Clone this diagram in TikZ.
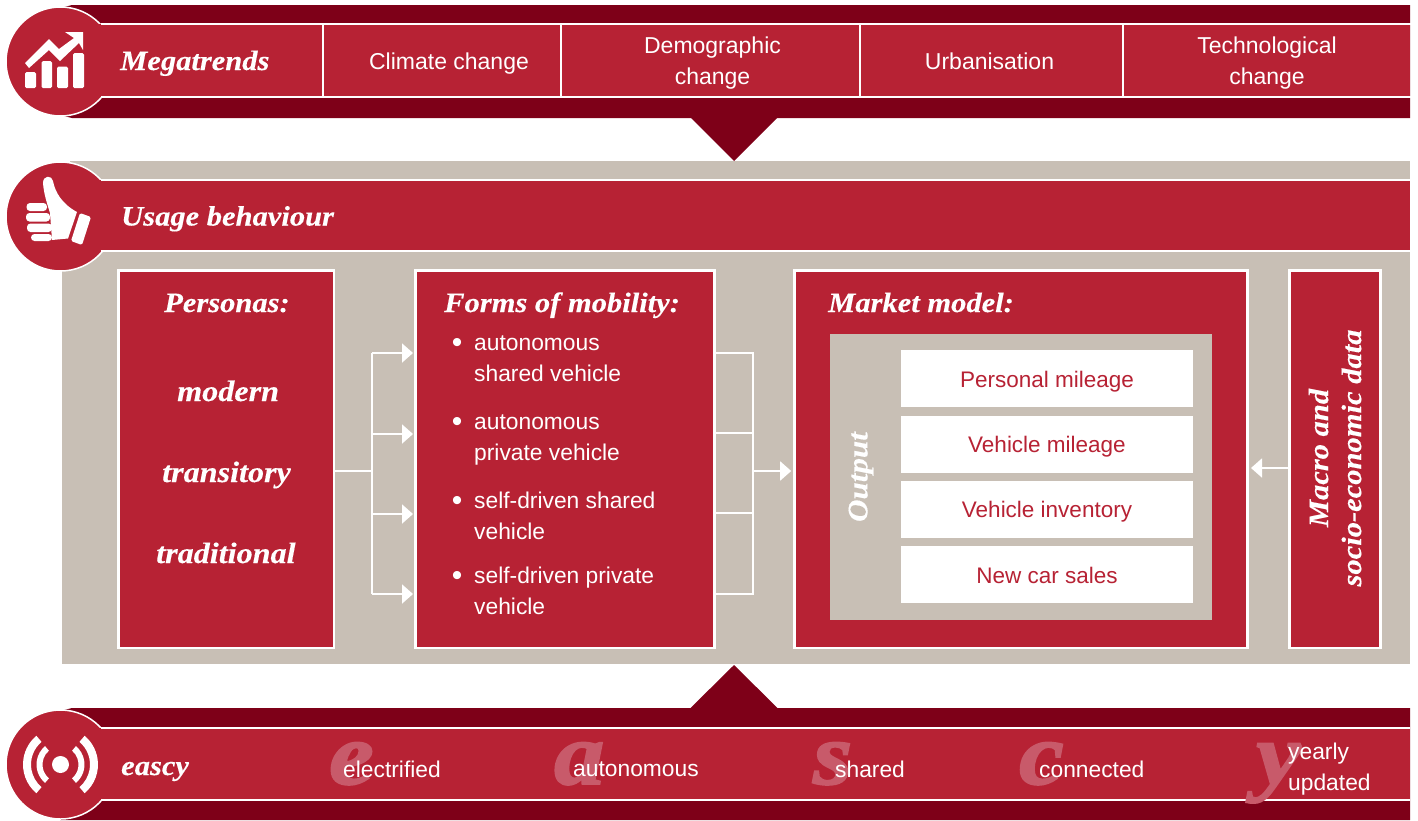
\documentclass[tikz,border=0pt]{standalone}
\usepackage{fontspec}
\setmainfont{Liberation Sans}
\newfontfamily\ser{Liberation Serif}[BoldItalicFeatures={FakeStretch=1.09,FakeBold=0.3}]
\newfontfamily\serbig{Liberation Serif}[BoldItalicFeatures={FakeStretch=1.14,FakeBold=2.2}]
\usetikzlibrary{arrows.meta}
\definecolor{cred}{HTML}{B72234}
\definecolor{cdark}{HTML}{7E0018}
\definecolor{cbeige}{HTML}{C8BFB5}
\definecolor{cletter}{HTML}{C85A6A}
\tikzset{
  x=1pt,y=-1pt,
  sans/.style={text=white,font=\fontsize{23}{31}\selectfont,align=center,inner sep=0},
  sanl/.style={text=white,font=\fontsize{22.8}{31}\selectfont,align=left,inner sep=0,anchor=west},
  blt/.style={text=white,font=\fontsize{30}{30}\selectfont,inner sep=0},
  redtxt/.style={text=cred,font=\fontsize{22.5}{31}\selectfont,inner sep=0},
  head/.style={text=white,font=\fontsize{28}{32}\ser\bfseries\itshape\selectfont,inner sep=0,anchor=base west},
  pers/.style={text=white,font=\fontsize{29.5}{32}\ser\bfseries\itshape\selectfont,inner sep=0,anchor=base west},
  big/.style={text=cletter,font=\fontsize{88}{88}\serbig\bfseries\itshape\selectfont,inner sep=0,anchor=base west},
  panel/.style={fill=cred,draw=white,line width=2.6pt,inner sep=0,outer sep=0,anchor=north west},
  outbox/.style={fill=white,inner sep=0,anchor=north west,minimum width=292pt,minimum height=57pt},
  cell/.style={draw=white,line width=2pt,inner sep=0,minimum height=73pt},
  wire/.style={draw=white,line width=1.8pt},
  arr/.style={wire,-{Triangle[length=11pt,width=19pt]}},
  disc/.style={fill=cred,draw=white,line width=1.5pt},
  bandline/.style={draw=white,line width=2.5pt}
}
\begin{document}
\begin{tikzpicture}
\useasboundingbox (0,0) rectangle (1418,820);
% ---- middle beige panel
\fill[cbeige] (70,161) rectangle (1410,250);
\fill[cbeige] (62,250) rectangle (1410,664);
% ---- top band
\fill[cdark] (60,8) -- (72,5) -- (1410,5) -- (1410,118) -- (72,118) -- (60,115) -- cycle;
\fill[cdark] (690,117) -- (778,117) -- (734,161) -- cycle;
\draw[disc] (60.5,61.5) circle (54.5);
\fill[cred] (80,24) rectangle (1410,97);
\draw[bandline] (101,24) -- (1410,24);
\draw[bandline] (101,97) -- (1410,97);
\node[head] (mega) at (120,70) {Megatrends};
\node[cell,minimum width=238pt] (t1) at (442,60.5) {};
\node[cell,minimum width=299pt] (t2) at (710.5,60.5) {};
\node[cell,minimum width=263pt] (t3) at (991.5,60.5) {};
\node[cell,minimum width=290pt] (t4) at (1268,60.5) {};
\node[sans] (l1) at (449,64) {Climate change};
\node[sans] (l2) at (712.5,63.5) {Demographic\\change};
\node[sans] (l3) at (989.5,61.5) {Urbanisation};
\node[sans] (l4) at (1267,63.5) {Technological\\change};
% chart icon
\fill[white,rounded corners=1.5pt] (25,72) rectangle (36,88);
\fill[white,rounded corners=1.5pt] (41.5,61) rectangle (52,88);
\fill[white,rounded corners=1.5pt] (57,66.5) rectangle (68,88);
\fill[white,rounded corners=1.5pt] (73,53) rectangle (84,88);
\fill[white] (25,63) -- (49,39) -- (59,49) -- (74,38) -- (65,32) -- (83,32) -- (83,50) -- (79,43) -- (60,61) -- (49,50) -- (29,68) -- cycle;
% ---- usage band
\draw[disc] (60.5,216.5) circle (54.5);
\fill[cred] (80,180) rectangle (1410,251);
\draw[bandline] (101,180) -- (1410,180);
\draw[bandline] (101,251) -- (1410,251);
\node[head] (usage) at (121,225.5) {Usage behaviour};
% thumb icon
\fill[white] (43,183) .. controls (43,175) and (52,175) .. (53,181)
  .. controls (55,192) and (62,204) .. (77,212) -- (68,238.5) -- (52,240)
  -- (50,213) .. controls (47,203) and (44,195) .. (43,183) -- cycle;
\fill[white,rounded corners=1.5pt] (80,213) -- (91,217) -- (82,245) -- (71,241) -- cycle;
\fill[white,rounded corners=3.5pt] (26.5,203) rectangle (47,211);
\fill[white,rounded corners=3.5pt] (26,213) rectangle (50,221.5);
\fill[white,rounded corners=3.5pt] (27,223.5) rectangle (52,232);
\fill[white,rounded corners=3.5pt] (31,234) rectangle (52,241);
% ---- panels
\node[panel,minimum width=215.5pt,minimum height=377.6pt] (personas) at (118.5,270.2) {};
\node[panel,minimum width=299.3pt,minimum height=377.6pt] (forms) at (415.2,270.2) {};
\node[panel,minimum width=453.3pt,minimum height=377.6pt] (market) at (794.2,270.2) {};
\node[panel,minimum width=91.5pt,minimum height=377.6pt] (macro) at (1289.2,270.2) {};
\node[head] (h1) at (164,312) {Personas:};
\node[pers] (p1) at (177,401) {modern};
\node[pers] (p2) at (162,482) {transitory};
\node[pers] (p3) at (156,563) {traditional};
\node[head] (h2) at (444,312) {Forms of mobility:};
\node[head] (h3) at (828,312) {Market model:};
\node[blt] (b1) at (457,345) {•};
\node[sanl] (f1) at (474,359) {autonomous\\shared vehicle};
\node[blt] (b2) at (457,424) {•};
\node[sanl] (f2) at (474,439.5) {autonomous\\private vehicle};
\node[blt] (b3) at (457,503) {•};
\node[sanl] (f3) at (474,516) {self-driven shared\\vehicle};
\node[blt] (b4) at (457,578) {•};
\node[sanl] (f4) at (474,590.5) {self-driven private\\vehicle};
% market inner
\node[fill=cbeige,inner sep=0,anchor=north west,minimum width=382pt,minimum height=286pt] (outp) at (830,334) {};
\node[text=white,font=\fontsize{28.5}{28}\ser\bfseries\itshape\selectfont,rotate=90,inner sep=0] (outl) at (861,477) {Output};
\node[outbox] (o1) at (901,350) {};
\node[outbox] (o2) at (901,416) {};
\node[outbox] (o3) at (901,481) {};
\node[outbox] (o4) at (901,546) {};
\node[redtxt] (r1) at (1047,381.5) {Personal mileage};
\node[redtxt] (r2) at (1047,446.5) {Vehicle mileage};
\node[redtxt] (r3) at (1047,511.5) {Vehicle inventory};
\node[redtxt] (r4) at (1047,575) {New car sales};
\node[text=white,font=\fontsize{28}{33}\ser\bfseries\itshape\selectfont,rotate=90,align=center,inner sep=0] (mtxt) at (1335,458) {Macro and\\socio-economic data};
% ---- connectors
\coordinate (pj) at (372,471);
\coordinate (fa) at (413,353);
\coordinate (fb) at (413,434);
\coordinate (fc) at (413,514);
\coordinate (fd) at (413,594);
\coordinate (qa) at (753,353);
\coordinate (qb) at (753,433);
\coordinate (qc) at (753,513);
\coordinate (qd) at (753,594);
\coordinate (qj) at (753,471);
\coordinate (mj) at (1251,468);
\draw[wire] (personas.east |- pj) -- (pj);
\draw[arr] (fa -| pj) -- (fa);
\draw[wire] (fa -| pj) -- (fd -| pj);
\draw[arr] (fb -| pj) -- (fb);
\draw[arr] (fc -| pj) -- (fc);
\draw[arr] (fd -| pj) -- (fd);
\draw[wire] (forms.east |- qa) -- (qa) -- (qd) -- (forms.east |- qd);
\draw[wire] (forms.east |- qb) -- (qb);
\draw[wire] (forms.east |- qc) -- (qc);
\draw[arr,shorten >=3pt] (qj) -- (market.west |- qj);
\draw[arr] (macro.west |- mj) -- (mj);
% ---- bottom band
\fill[cdark] (60,711) -- (72,708) -- (1410,708) -- (1410,820) -- (60,820) -- cycle;
\fill[cdark] (690,708.5) -- (778,708.5) -- (734,665) -- cycle;
\begin{scope}
\clip (0,0) rectangle (1418,820);
\draw[disc] (60.5,764.5) circle (54.5);
\end{scope}
\fill[cred] (80,728) rectangle (1410,800);
\draw[bandline] (101,728) -- (1410,728);
\draw[bandline] (101,800) -- (1410,800);
\node[text=white,font=\fontsize{28}{28}\ser\bfseries\itshape\selectfont,inner sep=0,anchor=base west] (eascy) at (121,775) {eascy};
% broadcast icon
\fill[white] (60.5,764.5) circle (8.5);
\foreach \s in {1,-1}{
  \fill[white,shift={(60.5,764.5)},xscale=\s] (-50:18) arc[start angle=-50,end angle=50,radius=18] -- (50:24) arc[start angle=50,end angle=-50,radius=24] -- cycle;
  \fill[white,shift={(60.5,764.5)},xscale=\s] (-50:29.5) arc[start angle=-50,end angle=50,radius=29.5] -- (50:37.5) arc[start angle=50,end angle=-50,radius=37.5] -- cycle;
}
% letters
\node[big] (le) at (329,784) {e};
\node[big] (la) at (554,784) {a};
\node[big] (ls) at (813,784) {s};
\node[big] (lc) at (1019,784) {c};
\node[big] (ly) at (1256,784) {y};
\node[sanl] (te) at (343,769) {electrified};
\node[sanl] (ta) at (573,769) {autonomous};
\node[sanl] (ts) at (835,769) {shared};
\node[sanl] (tc) at (1039,769) {connected};
\node[sanl] (ty) at (1288,769.5) {yearly\\updated};
\end{tikzpicture}
\end{document}
